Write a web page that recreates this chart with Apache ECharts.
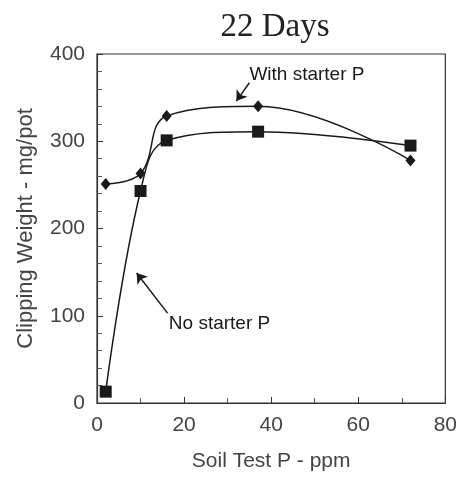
<!DOCTYPE html>
<html>
<head>
<meta charset="utf-8">
<script src="https://cdn.jsdelivr.net/npm/echarts@6/dist/echarts.min.js"></script>
<style>
  html, body { margin: 0; padding: 0; background: #fff; }
  #chart { width: 460px; height: 477px; }
</style>
</head>
<body>
<div id="chart"></div>
<script>
const soilTestP = [2, 10, 16, 37, 72];
const withStarter = [251, 263, 329, 340, 278];
const noStarter = [13, 243, 301, 311, 295];
const xTicks = [0, 20, 40, 60, 80];
const yTicks = [0, 100, 200, 300, 400];

const ink = '#1a1a1a';
const labelColor = '#444';
const sans = '"Liberation Sans", Arial, sans-serif';

const chart = echarts.init(document.getElementById('chart'), undefined, { renderer: 'canvas' });

const axisCommon = {
  axisLine: { show: true, lineStyle: { color: '#333', width: 1.2 } },
  axisTick: { show: true, inside: true, length: 6, lineStyle: { color: '#333' } },
  minorTick: { show: true, length: 5, lineStyle: { color: '#555' } },
  splitLine: { show: false },
  axisLabel: { color: labelColor, fontFamily: sans, fontSize: 21 },
  nameTextStyle: { color: labelColor, fontFamily: sans, fontSize: 21 }
};

chart.setOption({
  animation: false,
  backgroundColor: '#fff',
  title: {
    text: '22 Days',
    left: 270,
    top: 6,
    textAlign: 'center',
    textStyle: { fontFamily: '"Liberation Serif", "Times New Roman", serif', fontWeight: 'normal', fontSize: 33, color: '#222' }
  },
  grid: { left: 97, right: 13, top: 54, bottom: 72, show: true, borderColor: '#333', borderWidth: 1.2, containLabel: false },
  xAxis: {
    ...axisCommon,
    type: 'value',
    min: xTicks[0],
    max: xTicks[xTicks.length - 1],
    interval: 20,
    minorTick: { ...axisCommon.minorTick, splitNumber: 2 },
    axisLabel: { ...axisCommon.axisLabel, margin: 12 },
    name: 'Soil Test P - ppm',
    nameLocation: 'middle',
    nameGap: 48
  },
  yAxis: {
    ...axisCommon,
    type: 'value',
    min: yTicks[0],
    max: yTicks[yTicks.length - 1],
    interval: 100,
    minorTick: { ...axisCommon.minorTick, splitNumber: 5 },
    axisLabel: { ...axisCommon.axisLabel, margin: 12 },
    name: 'Clipping Weight - mg/pot',
    nameLocation: 'middle',
    nameGap: 60,
    nameTextStyle: { ...axisCommon.nameTextStyle, fontSize: 22 }
  },
  series: [
    {
      name: 'With starter P',
      type: 'line',
      smooth: 0.4,
      symbol: 'diamond',
      symbolSize: [10, 12],
      itemStyle: { color: ink },
      lineStyle: { color: ink, width: 1.5 },
      data: soilTestP.map((x, i) => [x, withStarter[i]]),
      markLine: {
        silent: true,
        symbol: ['none', 'arrow'],
        symbolSize: 10,
        lineStyle: { color: ink, width: 1.5, type: 'solid' },
        label: { show: false },
        data: [[{ coord: [35, 367] }, { coord: [32, 346] }]]
      },
      markPoint: {
        silent: true,
        symbol: 'circle',
        symbolSize: 0,
        label: { show: true, position: 'right', distance: 0, formatter: 'With starter P', color: ink, fontFamily: sans, fontSize: 19 },
        data: [{ coord: [35, 376] }]
      }
    },
    {
      name: 'No starter P',
      type: 'line',
      smooth: 0.4,
      symbol: 'rect',
      symbolSize: 12,
      itemStyle: { color: ink },
      lineStyle: { color: ink, width: 1.5 },
      data: soilTestP.map((x, i) => [x, noStarter[i]]),
      markLine: {
        silent: true,
        symbol: ['none', 'arrow'],
        symbolSize: 10,
        lineStyle: { color: ink, width: 1.5, type: 'solid' },
        label: { show: false },
        data: [[{ coord: [16.2, 103] }, { coord: [9.1, 149] }]]
      },
      markPoint: {
        silent: true,
        symbol: 'circle',
        symbolSize: 0,
        label: { show: true, position: 'right', distance: 0, formatter: 'No starter P', color: ink, fontFamily: sans, fontSize: 19 },
        data: [{ coord: [16.5, 91] }]
      }
    }
  ]
});
</script>
</body>
</html>
